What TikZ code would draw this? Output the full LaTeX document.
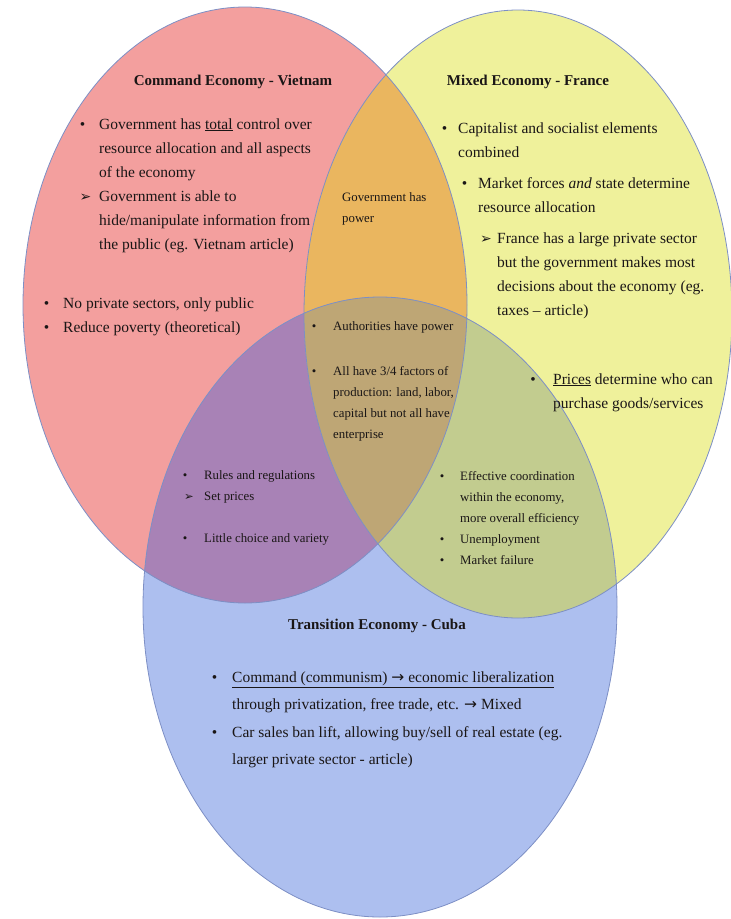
\documentclass[tikz,border=0pt]{standalone}
\usepackage{fontspec}
\setmainfont{Liberation Serif}
\newfontfamily\symfont{DejaVu Sans}
\usetikzlibrary{positioning}

\definecolor{cmdfill}{HTML}{F39F9E}
\definecolor{mixfill}{HTML}{EFF19B}
\definecolor{trnfill}{HTML}{ADBFEF}
\definecolor{cmdmix}{HTML}{EAB65F}
\definecolor{cmdtrn}{HTML}{A882B6}
\definecolor{mixtrn}{HTML}{C2CC8F}
\definecolor{core}{HTML}{BEA675}
\definecolor{rim}{HTML}{7D8FC5}
\definecolor{ink}{HTML}{1A1616}

\begin{document}
\begin{tikzpicture}[x=1pt, y=-1pt,
    txt/.style={font=\fontsize{15.5}{24}\selectfont, text=ink, align=left, inner sep=0pt, anchor=north west},
    stxt/.style={txt, font=\fontsize{12.8}{21}\selectfont},
    btxt/.style={txt, font=\fontsize{15.5}{26.5}\selectfont},
    ttl/.style={font=\fontsize{15}{18}\selectfont\bfseries, text=ink, inner sep=0pt, anchor=base},
    bul/.style={anchor=north east}]
  \useasboundingbox (0,0) rectangle (731,919);
  \coordinate (cmdc) at (245,305);
  \coordinate (mixc) at (518,314);
  \coordinate (trnc) at (380,607);
  \def\cmdpath{(cmdc) ellipse [x radius=222pt, y radius=298pt]}
  \def\mixpath{(mixc) ellipse [x radius=214pt, y radius=304pt]}
  \def\trnpath{(trnc) ellipse [x radius=237pt, y radius=310pt]}
  \def\arrbul{{\symfont\fontsize{14}{24}\selectfont ➢}}

  \fill[cmdfill] \cmdpath;
  \fill[mixfill] \mixpath;
  \fill[trnfill] \trnpath;
  \begin{scope}
    \clip \cmdpath;
    \fill[cmdmix] \mixpath;
    \fill[cmdtrn] \trnpath;
  \end{scope}
  \begin{scope}
    \clip \mixpath;
    \fill[mixtrn] \trnpath;
  \end{scope}
  \begin{scope}
    \clip \cmdpath;
    \clip \mixpath;
    \fill[core] \trnpath;
  \end{scope}
  \draw[rim, line width=0.8pt] \cmdpath \mixpath \trnpath;

  % headings
  \node[ttl] (cmdttl) at (233,85) {Command Economy - Vietnam};
  \node[ttl] (mixttl) at (528,85) {Mixed Economy - France};
  \node[ttl] (trnttl) at (377,629) {Transition Economy - Cuba};

  % command economy
  \node[txt] (cv1) at (99,112) {\strut Government has \underline{total} control over\\resource allocation and all aspects\\of the economy};
  \node[txt] (cv2) at (99,184) {\strut Government is able to\\hide/manipulate information from\\the public (eg. Vietnam article)};
  \node[txt] (cv3) at (63,291) {\strut No private sectors, only public};
  \node[txt] (cv4) at (63,315) {\strut Reduce poverty (theoretical)};
  \node[txt, left=13.5pt of cv1.north west, bul] (cv1b) {\strut\textbullet};
  \node[txt, left=7.5pt of cv2.north west, bul] (cv2b) {\strut\arrbul};
  \node[txt, left=13.5pt of cv3.north west, bul] (cv3b) {\strut\textbullet};
  \node[txt, left=13.5pt of cv4.north west, bul] (cv4b) {\strut\textbullet};

  % mixed economy
  \node[txt] (mf1) at (458,116) {\strut Capitalist and socialist elements\\combined};
  \node[txt] (mf2) at (478,171) {\strut Market forces \textit{and} state determine\\resource allocation};
  \node[txt] (mf3) at (497,226) {\strut France has a large private sector\\but the government makes most\\decisions about the economy (eg.\\taxes -- article)};
  \node[txt] (mf4) at (553,367) {\strut\underline{Prices} determine who can\\purchase goods/services};
  \node[txt, left=10.5pt of mf1.north west, bul] (mf1b) {\strut\textbullet};
  \node[txt, left=10.5pt of mf2.north west, bul] (mf2b) {\strut\textbullet};
  \node[txt, left=5pt of mf3.north west, bul] (mf3b) {\strut\arrbul};
  \node[txt, left=17pt of mf4.north west, bul] (mf4b) {\strut\textbullet};

  % command & mixed
  \node[stxt] (cm1) at (342,187) {\strut Government has\\power};

  % all three
  \node[stxt] (all1) at (333,316) {\strut Authorities have power};
  \node[stxt] (all2) at (333,361) {\strut All have 3/4 factors of\\production: land, labor,\\capital but not all have\\enterprise};
  \node[stxt, left=16.5pt of all1.north west, bul] (all1b) {\strut\textbullet};
  \node[stxt, left=16.5pt of all2.north west, bul] (all2b) {\strut\textbullet};

  % command & transition
  \node[stxt] (ct1) at (204,465) {\strut Rules and regulations};
  \node[stxt] (ct2) at (204,486) {\strut Set prices};
  \node[stxt] (ct3) at (204,528) {\strut Little choice and variety};
  \node[stxt, left=16.5pt of ct1.north west, bul] (ct1b) {\strut\textbullet};
  \node[stxt, left=10pt of ct2.north west, bul] (ct2b) {\strut{\symfont\fontsize{11.5}{21}\selectfont ➢}};
  \node[stxt, left=16.5pt of ct3.north west, bul] (ct3b) {\strut\textbullet};

  % mixed & transition
  \node[stxt] (mt1) at (460,466) {\strut Effective coordination\\within the economy,\\more overall efficiency};
  \node[stxt] (mt2) at (460,529) {\strut Unemployment};
  \node[stxt] (mt3) at (460,550) {\strut Market failure};
  \node[stxt, left=15.5pt of mt1.north west, bul] (mt1b) {\strut\textbullet};
  \node[stxt, left=15.5pt of mt2.north west, bul] (mt2b) {\strut\textbullet};
  \node[stxt, left=15.5pt of mt3.north west, bul] (mt3b) {\strut\textbullet};

  % transition economy
  \node[btxt] (tc1) at (232,664) {\strut\underline{Command (communism) {\symfont →} economic liberalization}\\through privatization, free trade, etc. {\symfont →} Mixed};
  \node[btxt] (tc2) at (232,719) {\strut Car sales ban lift, allowing buy/sell of real estate (eg.\\larger private sector - article)};
  \node[btxt, left=14.5pt of tc1.north west, bul] (tc1b) {\strut\textbullet};
  \node[btxt, left=14.5pt of tc2.north west, bul] (tc2b) {\strut\textbullet};
\end{tikzpicture}
\end{document}
